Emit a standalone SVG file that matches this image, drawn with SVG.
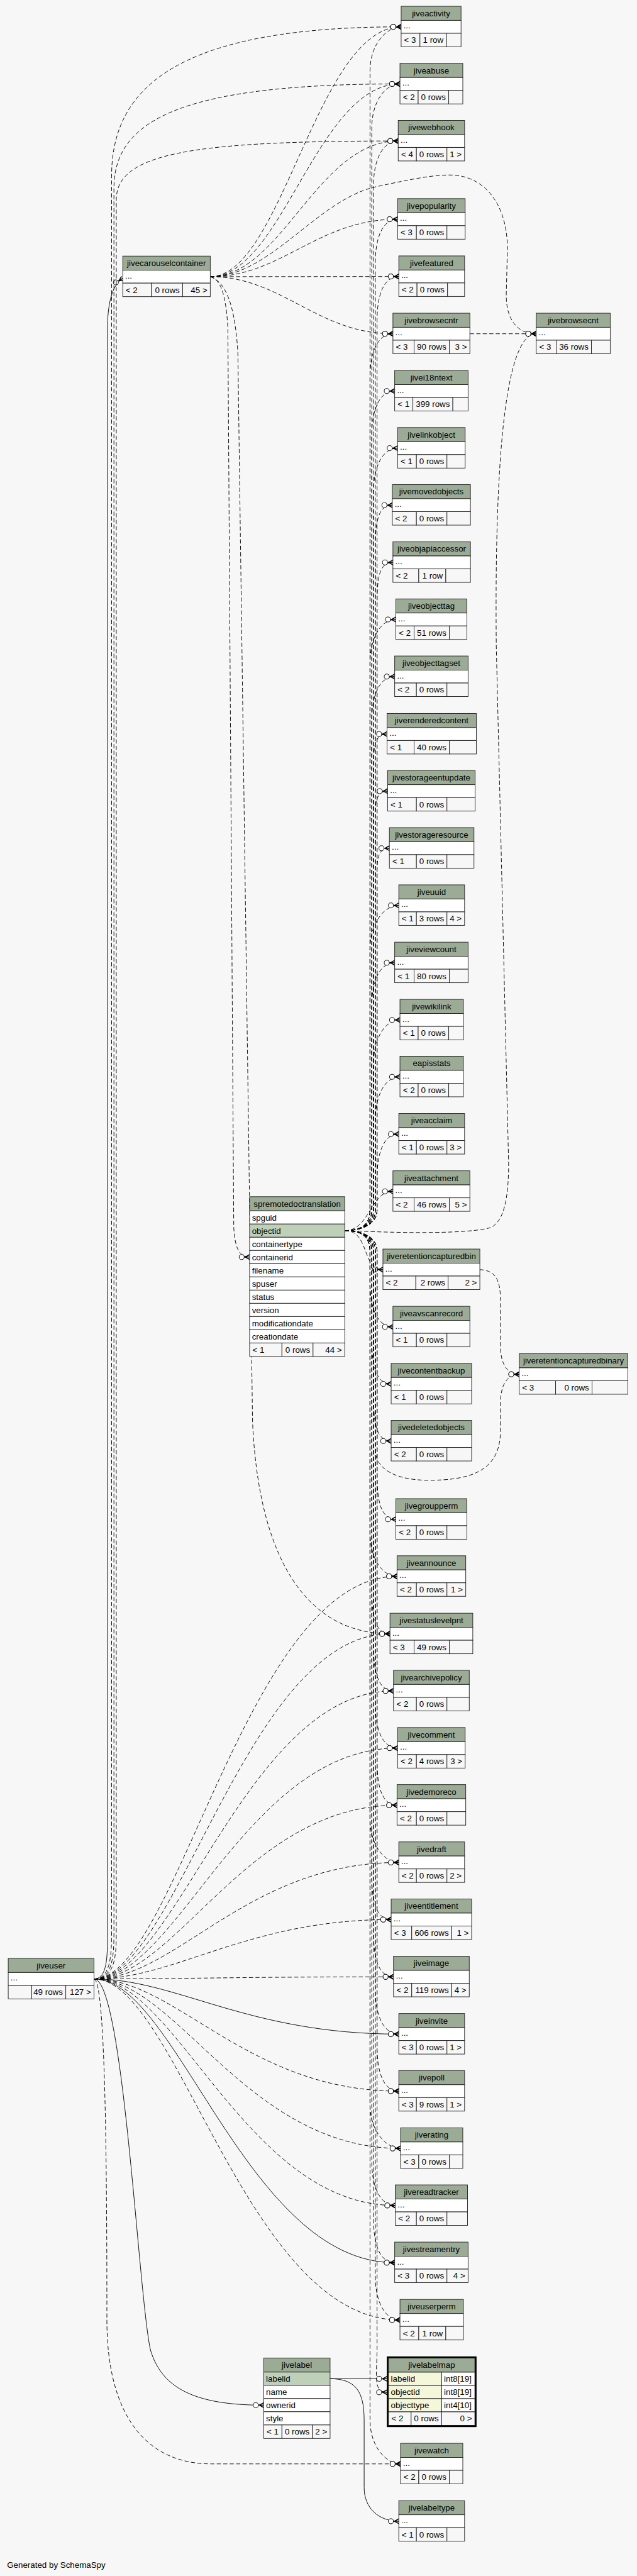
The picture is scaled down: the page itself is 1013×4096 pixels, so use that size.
<svg xmlns="http://www.w3.org/2000/svg" width="1013" height="4096" viewBox="0 0 1013 4096">
<style>
.h{fill:#9bab96;stroke:#222;stroke-width:1}
.r{fill:#fff;stroke:#222;stroke-width:1}
.f{fill:#f7f7f7;stroke:#222;stroke-width:1}
.k{fill:#bed1b8;stroke:#222;stroke-width:1}
.y{fill:#f4f7da;stroke:#222;stroke-width:1}
text{font-family:"Liberation Sans",Arial,Helvetica,sans-serif;font-size:14.3px;fill:#000}
.c{text-anchor:middle}
.e{text-anchor:end}
.l{fill:none;stroke:#000;stroke-width:1;marker-end:url(#m)}
.d{stroke-dasharray:7 4}
</style>
<defs>
<marker id="m" markerUnits="userSpaceOnUse" viewBox="-20 -7 21 14" refX="0" refY="0" markerWidth="21" markerHeight="14" orient="auto">
<path d="M0,-5 L-9,0 L0,5 L0,3 L-6,0 L0,-3 Z" fill="#000"/>
<path d="M-9,0 L0,0" stroke="#000" stroke-width="1.4" fill="none"/>
<circle cx="-13.5" cy="0" r="4.3" fill="#fff" stroke="#000" stroke-width="1"/>
</marker>
</defs>
<rect width="1013" height="4096" fill="#f7f7f7"/>
<g transform="scale(0.934)">
<g id="connectors">
<path class="l d" d="M587,2095 C615,2095 630,2085 630,2060 L630,120.7 C630,75.7 658,45.7 683,45.7"/>
<path class="l d" d="M587,2095 C615,2095 633,2085 633,2060 L633,217.9 C633,172.9 656,142.9 681,142.9"/>
<path class="l d" d="M587,2095 C615,2095 636,2085 636,2060 L636,315 C636,270 653,240 678,240"/>
<path class="l d" d="M587,2095 C615,2095 639,2085 639,2060 L639,448.2 C639,403.2 652,373.2 677,373.2"/>
<path class="l d" d="M587,2095 C615,2095 642,2085 642,2060 L642,545.7 C642,500.7 654,470.7 679,470.7"/>
<path class="l d" d="M587,2095 C615,2095 630,2085 630,2060 L630,643.2 C630,598.2 644,568.2 669,568.2"/>
<path class="l d" d="M587,2095 C615,2095 633,2085 633,2060 L633,740.7 C633,695.7 647,665.7 672,665.7"/>
<path class="l d" d="M587,2095 C615,2095 636,2085 636,2060 L636,837.9 C636,792.9 652,762.9 677,762.9"/>
<path class="l d" d="M587,2095 C615,2095 639,2085 639,2060 L639,935 C639,890 643,860 668,860"/>
<path class="l d" d="M587,2095 C615,2095 642,2085 642,2060 L642,1032.5 C642,987.5 644,957.5 669,957.5"/>
<path class="l d" d="M587,2095 C615,2095 630,2085 630,2060 L630,1129.6 C630,1084.6 649,1054.6 674,1054.6"/>
<path class="l d" d="M587,2095 C615,2095 633,2085 633,2060 L633,1226.8 C633,1181.8 647,1151.8 672,1151.8"/>
<path class="l d" d="M587,2095 C615,2095 636,2085 636,2060 L636,1324.6 C636,1279.6 634,1249.6 659,1249.6"/>
<path class="l d" d="M587,2095 C615,2095 639,2085 639,2060 L639,1421.8 C639,1376.8 635,1346.8 660,1346.8"/>
<path class="l d" d="M587,2095 C615,2095 642,2085 642,2060 L642,1519 C642,1474 638,1444 663,1444"/>
<path class="l d" d="M587,2095 C615,2095 630,2085 630,2060 L630,1616.4 C630,1571.4 654,1541.4 679,1541.4"/>
<path class="l d" d="M587,2095 C615,2095 633,2085 633,2060 L633,1714 C633,1669 647,1639 672,1639"/>
<path class="l d" d="M587,2095 C615,2095 636,2085 636,2060 L636,1811.4 C636,1766.4 656,1736.4 681,1736.4"/>
<path class="l d" d="M587,2095 C615,2095 639,2085 639,2060 L639,1908.2 C639,1863.2 656,1833.2 681,1833.2"/>
<path class="l d" d="M587,2095 C615,2095 642,2085 642,2060 L642,2005.7 C642,1960.7 654,1930.7 679,1930.7"/>
<path class="l d" d="M587,2095 C630,2095 630,2028.2 669,2028.2"/>
<path class="l d" d="M587,2095 C630,2095 615,2161.4 652,2161.4"/>
<path class="l d" d="M587,2095 C615,2095 630,2105 630,2130 L630,2183.9 C630,2228.9 644,2258.9 669,2258.9"/>
<path class="l d" d="M587,2095 C615,2095 633,2105 633,2130 L633,2281 C633,2326 641,2356 666,2356"/>
<path class="l d" d="M587,2095 C615,2095 636,2105 636,2130 L636,2378.2 C636,2423.2 641,2453.2 666,2453.2"/>
<path class="l d" d="M587,2095 C615,2095 639,2105 639,2130 L639,2470 C641,2505 680,2520 730,2520 C800,2520 850,2505 852,2440 L852,2390 C852,2360 862,2339.6 884,2339.6"/>
<path class="l d" d="M587,2095 C615,2095 642,2105 642,2130 L642,2511.4 C642,2556.4 649,2586.4 674,2586.4"/>
<path class="l d" d="M587,2095 C615,2095 630,2105 630,2130 L630,2608.6 C630,2653.6 651,2683.6 676,2683.6"/>
<path class="l d" d="M587,2095 C615,2095 633,2105 633,2130 L633,2706.4 C633,2751.4 639,2781.4 664,2781.4"/>
<path class="l d" d="M587,2095 C615,2095 636,2105 636,2130 L636,2803.6 C636,2848.6 645,2878.6 670,2878.6"/>
<path class="l d" d="M587,2095 C615,2095 639,2105 639,2130 L639,2901 C639,2946 652,2976 677,2976"/>
<path class="l d" d="M587,2095 C615,2095 642,2105 642,2130 L642,2998.2 C642,3043.2 651,3073.2 676,3073.2"/>
<path class="l d" d="M587,2095 C615,2095 630,2105 630,2130 L630,3095.7 C630,3140.7 654,3170.7 679,3170.7"/>
<path class="l d" d="M587,2095 C615,2095 633,2105 633,2130 L633,3192.9 C633,3237.9 641,3267.9 666,3267.9"/>
<path class="l d" d="M587,2095 C615,2095 636,2105 636,2130 L636,3290.4 C636,3335.4 645,3365.4 670,3365.4"/>
<path class="l d" d="M587,2095 C615,2095 639,2105 639,2130 L639,3387.9 C639,3432.9 654,3462.9 679,3462.9"/>
<path class="l d" d="M587,2095 C615,2095 642,2105 642,2130 L642,3485 C642,3530 654,3560 679,3560"/>
<path class="l d" d="M587,2095 C615,2095 630,2105 630,2130 L630,3582.5 C630,3627.5 657,3657.5 682,3657.5"/>
<path class="l d" d="M587,2095 C615,2095 633,2105 633,2130 L633,3679.6 C633,3724.6 648,3754.6 673,3754.6"/>
<path class="l d" d="M587,2095 C615,2095 636,2105 636,2130 L636,3777 C636,3822 647,3852 672,3852"/>
<path class="l d" d="M587,2095 C615,2095 639,2105 639,2130 L639,3874.6 C639,3919.6 656,3949.6 681,3949.6"/>
<path class="l d" d="M587,2095 C615,2095 642,2105 642,2130 L642,3997.6 C642,4042.6 634,4072.6 659,4072.6"/>
<path class="l d" d="M587,2095 C615,2095 630,2105 630,2130 L630,4119.6 C630,4164.6 657,4194.6 682,4194.6"/>
<path class="l d" d="M587,2095 C700,2100 800,2100 835,2090 C858,2080 866,2040 866,1980 L845,1100 C842,800 858,568.2 913,568.2"/>
<path class="l d" d="M358,471 C480,471 540,45.7 683,45.7"/>
<path class="l d" d="M358,471 C480,471 540,142.9 681,142.9"/>
<path class="l d" d="M358,471 C480,471 540,240 678,240"/>
<path class="l d" d="M358,471 C480,471 540,373.2 677,373.2"/>
<path class="l d" d="M358,471 L679,470.7"/>
<path class="l d" d="M358,471 C480,471 540,568.2 669,568.2"/>
<path class="l d" d="M358,471 C460,471 540,340 640,318 C700,305 740,297 770,298 C820,300 862,340 864,420 L862,500 C861,540 878,568.2 913,568.2"/>
<path class="l d" d="M358,471 C375,475 385,500 388,560 L398,2090 C400,2120 405,2140 425,2140"/>
<path class="l d" d="M358,471 C385,480 400,520 405,600 L430,2420 C440,2650 520,2781.4 664,2781.4"/>
<path class="l d" d="M800,568.2 L913,568.2"/>
<path class="l d" d="M817,2161.4 C845,2163 853,2180 852,2220 L852,2290 C852,2320 862,2339.6 884,2339.6"/>
<path class="l" d="M562,4049.5 L659,4049.7"/>
<path class="l" d="M562,4049.5 C605,4050 620,4070 620,4120 L620,4235 C620,4270 645,4292.2 679,4292.2"/>
<path class="l" d="M160,3369 C180,3369 183,3340 183,3300 L183,560 C183,520 190,485 209,474"/>
<path class="l d" d="M160,3369 C188,3369 190,3330 190,3290 L190,300 C190,150 300,45.7 683,45.7"/>
<path class="l d" d="M160,3369 C192,3369 194,3330 194,3290 L194,320 C194,200 320,142.9 681,142.9"/>
<path class="l d" d="M160,3369 C196,3369 198,3330 198,3290 L198,340 C198,260 330,240 678,240"/>
<path class="l d" d="M160,3369 C300,3369 420,2683.6 676,2683.6"/>
<path class="l d" d="M160,3369 C300,3369 420,2781.4 664,2781.4"/>
<path class="l d" d="M160,3369 C300,3369 420,2878.6 670,2878.6"/>
<path class="l d" d="M160,3369 C300,3369 420,2976 677,2976"/>
<path class="l d" d="M160,3369 C300,3369 420,3073.2 676,3073.2"/>
<path class="l d" d="M160,3369 C300,3369 420,3170.7 679,3170.7"/>
<path class="l d" d="M160,3369 C300,3369 420,3267.9 666,3267.9"/>
<path class="l d" d="M160,3369 C300,3369 420,3365.4 670,3365.4"/>
<path class="l" d="M160,3369 C300,3369 420,3462.9 679,3462.9"/>
<path class="l d" d="M160,3369 C300,3369 420,3560 679,3560"/>
<path class="l d" d="M160,3369 C300,3369 420,3657.5 682,3657.5"/>
<path class="l d" d="M160,3369 C300,3369 420,3754.6 673,3754.6"/>
<path class="l" d="M160,3369 C300,3369 420,3852 672,3852"/>
<path class="l d" d="M160,3369 C300,3369 420,3949.6 681,3949.6"/>
<path class="l d" d="M160,3369 C180,3369 182,3700 182,3950 C182,4100 240,4194.6 360,4194.6 L682,4194.6"/>
<path class="l" d="M160,3369 C210,3369 235,3900 256,4000 C275,4065 330,4094.6 449,4094.6"/>
</g>

<g id="jiveactivity" transform="translate(683,10.7)"><rect class="h" width="102" height="24"/><text class="c" x="51" y="17">jiveactivity</text><rect class="r" y="24" width="102" height="22"/><text x="4" y="38">...</text><rect class="f" y="46" width="32" height="23"/><rect class="f" x="32" y="46" width="45" height="23"/><rect class="f" x="77" y="46" width="25" height="23"/><text x="5" y="62.5">&lt; 3</text><text class="e" x="72" y="62.5">1 row</text></g>
<g id="jiveabuse" transform="translate(681,107.9)"><rect class="h" width="107" height="24"/><text class="c" x="53.5" y="17">jiveabuse</text><rect class="r" y="24" width="107" height="22"/><text x="4" y="38">...</text><rect class="f" y="46" width="31" height="23"/><rect class="f" x="31" y="46" width="52" height="23"/><rect class="f" x="83" y="46" width="24" height="23"/><text x="5" y="62.5">&lt; 2</text><text class="e" x="78" y="62.5">0 rows</text></g>
<g id="jivewebhook" transform="translate(678,205)"><rect class="h" width="113" height="24"/><text class="c" x="56.5" y="17">jivewebhook</text><rect class="r" y="24" width="113" height="22"/><text x="4" y="38">...</text><rect class="f" y="46" width="31" height="23"/><rect class="f" x="31" y="46" width="52" height="23"/><rect class="f" x="83" y="46" width="30" height="23"/><text x="5" y="62.5">&lt; 4</text><text class="e" x="78" y="62.5">0 rows</text><text class="e" x="108" y="62.5">1 &gt;</text></g>
<g id="jivepopularity" transform="translate(677,338.2)"><rect class="h" width="115" height="24"/><text class="c" x="57.5" y="17">jivepopularity</text><rect class="r" y="24" width="115" height="22"/><text x="4" y="38">...</text><rect class="f" y="46" width="32" height="23"/><rect class="f" x="32" y="46" width="52" height="23"/><rect class="f" x="84" y="46" width="31" height="23"/><text x="5" y="62.5">&lt; 3</text><text class="e" x="79" y="62.5">0 rows</text></g>
<g id="jivefeatured" transform="translate(679,435.7)"><rect class="h" width="112" height="24"/><text class="c" x="56" y="17">jivefeatured</text><rect class="r" y="24" width="112" height="22"/><text x="4" y="38">...</text><rect class="f" y="46" width="31" height="23"/><rect class="f" x="31" y="46" width="52" height="23"/><rect class="f" x="83" y="46" width="29" height="23"/><text x="5" y="62.5">&lt; 2</text><text class="e" x="78" y="62.5">0 rows</text></g>
<g id="jivebrowsecntr" transform="translate(669,533.2)"><rect class="h" width="131" height="24"/><text class="c" x="65.5" y="17">jivebrowsecntr</text><rect class="r" y="24" width="131" height="22"/><text x="4" y="38">...</text><rect class="f" y="46" width="36" height="23"/><rect class="f" x="36" y="46" width="60" height="23"/><rect class="f" x="96" y="46" width="35" height="23"/><text x="5" y="62.5">&lt; 3</text><text class="e" x="91" y="62.5">90 rows</text><text class="e" x="126" y="62.5">3 &gt;</text></g>
<g id="jivebrowsecnt" transform="translate(913,533.2)"><rect class="h" width="126" height="24"/><text class="c" x="63" y="17">jivebrowsecnt</text><rect class="r" y="24" width="126" height="22"/><text x="4" y="38">...</text><rect class="f" y="46" width="34" height="23"/><rect class="f" x="34" y="46" width="60" height="23"/><rect class="f" x="94" y="46" width="32" height="23"/><text x="5" y="62.5">&lt; 3</text><text class="e" x="89" y="62.5">36 rows</text></g>
<g id="jivei18ntext" transform="translate(672,630.7)"><rect class="h" width="125" height="24"/><text class="c" x="62.5" y="17">jivei18ntext</text><rect class="r" y="24" width="125" height="22"/><text x="4" y="38">...</text><rect class="f" y="46" width="31" height="23"/><rect class="f" x="31" y="46" width="68" height="23"/><rect class="f" x="99" y="46" width="26" height="23"/><text x="5" y="62.5">&lt; 1</text><text class="e" x="94" y="62.5">399 rows</text></g>
<g id="jivelinkobject" transform="translate(677,727.9)"><rect class="h" width="115" height="24"/><text class="c" x="57.5" y="17">jivelinkobject</text><rect class="r" y="24" width="115" height="22"/><text x="4" y="38">...</text><rect class="f" y="46" width="32" height="23"/><rect class="f" x="32" y="46" width="52" height="23"/><rect class="f" x="84" y="46" width="31" height="23"/><text x="5" y="62.5">&lt; 1</text><text class="e" x="79" y="62.5">0 rows</text></g>
<g id="jivemovedobjects" transform="translate(668,825)"><rect class="h" width="133" height="24"/><text class="c" x="66.5" y="17">jivemovedobjects</text><rect class="r" y="24" width="133" height="22"/><text x="4" y="38">...</text><rect class="f" y="46" width="41" height="23"/><rect class="f" x="41" y="46" width="52" height="23"/><rect class="f" x="93" y="46" width="40" height="23"/><text x="5" y="62.5">&lt; 2</text><text class="e" x="88" y="62.5">0 rows</text></g>
<g id="jiveobjapiaccessor" transform="translate(669,922.5)"><rect class="h" width="132" height="24"/><text class="c" x="66" y="17">jiveobjapiaccessor</text><rect class="r" y="24" width="132" height="22"/><text x="4" y="38">...</text><rect class="f" y="46" width="44" height="23"/><rect class="f" x="44" y="46" width="46" height="23"/><rect class="f" x="90" y="46" width="42" height="23"/><text x="5" y="62.5">&lt; 2</text><text class="e" x="85" y="62.5">1 row</text></g>
<g id="jiveobjecttag" transform="translate(674,1019.6)"><rect class="h" width="121" height="24"/><text class="c" x="60.5" y="17">jiveobjecttag</text><rect class="r" y="24" width="121" height="22"/><text x="4" y="38">...</text><rect class="f" y="46" width="31" height="23"/><rect class="f" x="31" y="46" width="60" height="23"/><rect class="f" x="91" y="46" width="30" height="23"/><text x="5" y="62.5">&lt; 2</text><text class="e" x="86" y="62.5">51 rows</text></g>
<g id="jiveobjecttagset" transform="translate(672,1116.8)"><rect class="h" width="125" height="24"/><text class="c" x="62.5" y="17">jiveobjecttagset</text><rect class="r" y="24" width="125" height="22"/><text x="4" y="38">...</text><rect class="f" y="46" width="37" height="23"/><rect class="f" x="37" y="46" width="52" height="23"/><rect class="f" x="89" y="46" width="36" height="23"/><text x="5" y="62.5">&lt; 2</text><text class="e" x="84" y="62.5">0 rows</text></g>
<g id="jiverenderedcontent" transform="translate(659,1214.6)"><rect class="h" width="152" height="24"/><text class="c" x="76" y="17">jiverenderedcontent</text><rect class="r" y="24" width="152" height="22"/><text x="4" y="38">...</text><rect class="f" y="46" width="46" height="23"/><rect class="f" x="46" y="46" width="60" height="23"/><rect class="f" x="106" y="46" width="46" height="23"/><text x="5" y="62.5">&lt; 1</text><text class="e" x="101" y="62.5">40 rows</text></g>
<g id="jivestorageentupdate" transform="translate(660,1311.8)"><rect class="h" width="149" height="24"/><text class="c" x="74.5" y="17">jivestorageentupdate</text><rect class="r" y="24" width="149" height="22"/><text x="4" y="38">...</text><rect class="f" y="46" width="49" height="23"/><rect class="f" x="49" y="46" width="52" height="23"/><rect class="f" x="101" y="46" width="48" height="23"/><text x="5" y="62.5">&lt; 1</text><text class="e" x="96" y="62.5">0 rows</text></g>
<g id="jivestorageresource" transform="translate(663,1409)"><rect class="h" width="144" height="24"/><text class="c" x="72" y="17">jivestorageresource</text><rect class="r" y="24" width="144" height="22"/><text x="4" y="38">...</text><rect class="f" y="46" width="46" height="23"/><rect class="f" x="46" y="46" width="52" height="23"/><rect class="f" x="98" y="46" width="46" height="23"/><text x="5" y="62.5">&lt; 1</text><text class="e" x="93" y="62.5">0 rows</text></g>
<g id="jiveuuid" transform="translate(679,1506.4)"><rect class="h" width="112" height="24"/><text class="c" x="56" y="17">jiveuuid</text><rect class="r" y="24" width="112" height="22"/><text x="4" y="38">...</text><rect class="f" y="46" width="30" height="23"/><rect class="f" x="30" y="46" width="52" height="23"/><rect class="f" x="82" y="46" width="30" height="23"/><text x="5" y="62.5">&lt; 1</text><text class="e" x="77" y="62.5">3 rows</text><text class="e" x="107" y="62.5">4 &gt;</text></g>
<g id="jiveviewcount" transform="translate(672,1604)"><rect class="h" width="125" height="24"/><text class="c" x="62.5" y="17">jiveviewcount</text><rect class="r" y="24" width="125" height="22"/><text x="4" y="38">...</text><rect class="f" y="46" width="33" height="23"/><rect class="f" x="33" y="46" width="60" height="23"/><rect class="f" x="93" y="46" width="32" height="23"/><text x="5" y="62.5">&lt; 1</text><text class="e" x="88" y="62.5">80 rows</text></g>
<g id="jivewikilink" transform="translate(681,1701.4)"><rect class="h" width="108" height="24"/><text class="c" x="54" y="17">jivewikilink</text><rect class="r" y="24" width="108" height="22"/><text x="4" y="38">...</text><rect class="f" y="46" width="31" height="23"/><rect class="f" x="31" y="46" width="52" height="23"/><rect class="f" x="83" y="46" width="25" height="23"/><text x="5" y="62.5">&lt; 1</text><text class="e" x="78" y="62.5">0 rows</text></g>
<g id="eapisstats" transform="translate(681,1798.2)"><rect class="h" width="108" height="24"/><text class="c" x="54" y="17">eapisstats</text><rect class="r" y="24" width="108" height="22"/><text x="4" y="38">...</text><rect class="f" y="46" width="31" height="23"/><rect class="f" x="31" y="46" width="52" height="23"/><rect class="f" x="83" y="46" width="25" height="23"/><text x="5" y="62.5">&lt; 2</text><text class="e" x="78" y="62.5">0 rows</text></g>
<g id="jiveacclaim" transform="translate(679,1895.7)"><rect class="h" width="112" height="24"/><text class="c" x="56" y="17">jiveacclaim</text><rect class="r" y="24" width="112" height="22"/><text x="4" y="38">...</text><rect class="f" y="46" width="30" height="23"/><rect class="f" x="30" y="46" width="52" height="23"/><rect class="f" x="82" y="46" width="30" height="23"/><text x="5" y="62.5">&lt; 1</text><text class="e" x="77" y="62.5">0 rows</text><text class="e" x="107" y="62.5">3 &gt;</text></g>
<g id="jiveattachment" transform="translate(669,1993.2)"><rect class="h" width="131" height="24"/><text class="c" x="65.5" y="17">jiveattachment</text><rect class="r" y="24" width="131" height="22"/><text x="4" y="38">...</text><rect class="f" y="46" width="36" height="23"/><rect class="f" x="36" y="46" width="60" height="23"/><rect class="f" x="96" y="46" width="35" height="23"/><text x="5" y="62.5">&lt; 2</text><text class="e" x="91" y="62.5">46 rows</text><text class="e" x="126" y="62.5">5 &gt;</text></g>
<g id="jiveretentioncapturedbin" transform="translate(652,2126.4)"><rect class="h" width="165" height="24"/><text class="c" x="82.5" y="17">jiveretentioncapturedbin</text><rect class="r" y="24" width="165" height="22"/><text x="4" y="38">...</text><rect class="f" y="46" width="56" height="23"/><rect class="f" x="56" y="46" width="55" height="23"/><rect class="f" x="111" y="46" width="54" height="23"/><text x="5" y="62.5">&lt; 2</text><text class="e" x="106" y="62.5">2 rows</text><text class="e" x="160" y="62.5">2 &gt;</text></g>
<g id="jiveavscanrecord" transform="translate(669,2223.9)"><rect class="h" width="131" height="24"/><text class="c" x="65.5" y="17">jiveavscanrecord</text><rect class="r" y="24" width="131" height="22"/><text x="4" y="38">...</text><rect class="f" y="46" width="40" height="23"/><rect class="f" x="40" y="46" width="52" height="23"/><rect class="f" x="92" y="46" width="39" height="23"/><text x="5" y="62.5">&lt; 1</text><text class="e" x="87" y="62.5">0 rows</text></g>
<g id="jivecontentbackup" transform="translate(666,2321)"><rect class="h" width="137" height="24"/><text class="c" x="68.5" y="17">jivecontentbackup</text><rect class="r" y="24" width="137" height="22"/><text x="4" y="38">...</text><rect class="f" y="46" width="43" height="23"/><rect class="f" x="43" y="46" width="52" height="23"/><rect class="f" x="95" y="46" width="42" height="23"/><text x="5" y="62.5">&lt; 1</text><text class="e" x="90" y="62.5">0 rows</text></g>
<g id="jivedeletedobjects" transform="translate(666,2418.2)"><rect class="h" width="137" height="24"/><text class="c" x="68.5" y="17">jivedeletedobjects</text><rect class="r" y="24" width="137" height="22"/><text x="4" y="38">...</text><rect class="f" y="46" width="43" height="23"/><rect class="f" x="43" y="46" width="52" height="23"/><rect class="f" x="95" y="46" width="42" height="23"/><text x="5" y="62.5">&lt; 2</text><text class="e" x="90" y="62.5">0 rows</text></g>
<g id="jiveretentioncapturedbinary" transform="translate(884,2304.6)"><rect class="h" width="185" height="24"/><text class="c" x="92.5" y="17">jiveretentioncapturedbinary</text><rect class="r" y="24" width="185" height="22"/><text x="4" y="38">...</text><rect class="f" y="46" width="62" height="23"/><rect class="f" x="62" y="46" width="62" height="23"/><rect class="f" x="124" y="46" width="61" height="23"/><text x="5" y="62.5">&lt; 3</text><text class="e" x="119" y="62.5">0 rows</text></g>
<g id="jivegroupperm" transform="translate(674,2551.4)"><rect class="h" width="121" height="24"/><text class="c" x="60.5" y="17">jivegroupperm</text><rect class="r" y="24" width="121" height="22"/><text x="4" y="38">...</text><rect class="f" y="46" width="35" height="23"/><rect class="f" x="35" y="46" width="52" height="23"/><rect class="f" x="87" y="46" width="34" height="23"/><text x="5" y="62.5">&lt; 2</text><text class="e" x="82" y="62.5">0 rows</text></g>
<g id="jiveannounce" transform="translate(676,2648.6)"><rect class="h" width="117" height="24"/><text class="c" x="58.5" y="17">jiveannounce</text><rect class="r" y="24" width="117" height="22"/><text x="4" y="38">...</text><rect class="f" y="46" width="33" height="23"/><rect class="f" x="33" y="46" width="52" height="23"/><rect class="f" x="85" y="46" width="32" height="23"/><text x="5" y="62.5">&lt; 2</text><text class="e" x="80" y="62.5">0 rows</text><text class="e" x="112" y="62.5">1 &gt;</text></g>
<g id="jivestatuslevelpnt" transform="translate(664,2746.4)"><rect class="h" width="141" height="24"/><text class="c" x="70.5" y="17">jivestatuslevelpnt</text><rect class="r" y="24" width="141" height="22"/><text x="4" y="38">...</text><rect class="f" y="46" width="41" height="23"/><rect class="f" x="41" y="46" width="60" height="23"/><rect class="f" x="101" y="46" width="40" height="23"/><text x="5" y="62.5">&lt; 3</text><text class="e" x="96" y="62.5">49 rows</text></g>
<g id="jivearchivepolicy" transform="translate(670,2843.6)"><rect class="h" width="129" height="24"/><text class="c" x="64.5" y="17">jivearchivepolicy</text><rect class="r" y="24" width="129" height="22"/><text x="4" y="38">...</text><rect class="f" y="46" width="39" height="23"/><rect class="f" x="39" y="46" width="52" height="23"/><rect class="f" x="91" y="46" width="38" height="23"/><text x="5" y="62.5">&lt; 2</text><text class="e" x="86" y="62.5">0 rows</text></g>
<g id="jivecomment" transform="translate(677,2941)"><rect class="h" width="115" height="24"/><text class="c" x="57.5" y="17">jivecomment</text><rect class="r" y="24" width="115" height="22"/><text x="4" y="38">...</text><rect class="f" y="46" width="32" height="23"/><rect class="f" x="32" y="46" width="52" height="23"/><rect class="f" x="84" y="46" width="31" height="23"/><text x="5" y="62.5">&lt; 2</text><text class="e" x="79" y="62.5">4 rows</text><text class="e" x="110" y="62.5">3 &gt;</text></g>
<g id="jivedemoreco" transform="translate(676,3038.2)"><rect class="h" width="117" height="24"/><text class="c" x="58.5" y="17">jivedemoreco</text><rect class="r" y="24" width="117" height="22"/><text x="4" y="38">...</text><rect class="f" y="46" width="33" height="23"/><rect class="f" x="33" y="46" width="52" height="23"/><rect class="f" x="85" y="46" width="32" height="23"/><text x="5" y="62.5">&lt; 2</text><text class="e" x="80" y="62.5">0 rows</text></g>
<g id="jivedraft" transform="translate(679,3135.7)"><rect class="h" width="112" height="24"/><text class="c" x="56" y="17">jivedraft</text><rect class="r" y="24" width="112" height="22"/><text x="4" y="38">...</text><rect class="f" y="46" width="30" height="23"/><rect class="f" x="30" y="46" width="52" height="23"/><rect class="f" x="82" y="46" width="30" height="23"/><text x="5" y="62.5">&lt; 2</text><text class="e" x="77" y="62.5">0 rows</text><text class="e" x="107" y="62.5">2 &gt;</text></g>
<g id="jiveentitlement" transform="translate(666,3232.9)"><rect class="h" width="137" height="24"/><text class="c" x="68.5" y="17">jiveentitlement</text><rect class="r" y="24" width="137" height="22"/><text x="4" y="38">...</text><rect class="f" y="46" width="35" height="23"/><rect class="f" x="35" y="46" width="68" height="23"/><rect class="f" x="103" y="46" width="34" height="23"/><text x="5" y="62.5">&lt; 3</text><text class="e" x="98" y="62.5">606 rows</text><text class="e" x="132" y="62.5">1 &gt;</text></g>
<g id="jiveimage" transform="translate(670,3330.4)"><rect class="h" width="129" height="24"/><text class="c" x="64.5" y="17">jiveimage</text><rect class="r" y="24" width="129" height="22"/><text x="4" y="38">...</text><rect class="f" y="46" width="31" height="23"/><rect class="f" x="31" y="46" width="68" height="23"/><rect class="f" x="99" y="46" width="30" height="23"/><text x="5" y="62.5">&lt; 2</text><text class="e" x="94" y="62.5">119 rows</text><text class="e" x="124" y="62.5">4 &gt;</text></g>
<g id="jiveinvite" transform="translate(679,3427.9)"><rect class="h" width="112" height="24"/><text class="c" x="56" y="17">jiveinvite</text><rect class="r" y="24" width="112" height="22"/><text x="4" y="38">...</text><rect class="f" y="46" width="30" height="23"/><rect class="f" x="30" y="46" width="52" height="23"/><rect class="f" x="82" y="46" width="30" height="23"/><text x="5" y="62.5">&lt; 3</text><text class="e" x="77" y="62.5">0 rows</text><text class="e" x="107" y="62.5">1 &gt;</text></g>
<g id="jivepoll" transform="translate(679,3525)"><rect class="h" width="112" height="24"/><text class="c" x="56" y="17">jivepoll</text><rect class="r" y="24" width="112" height="22"/><text x="4" y="38">...</text><rect class="f" y="46" width="30" height="23"/><rect class="f" x="30" y="46" width="52" height="23"/><rect class="f" x="82" y="46" width="30" height="23"/><text x="5" y="62.5">&lt; 3</text><text class="e" x="77" y="62.5">9 rows</text><text class="e" x="107" y="62.5">1 &gt;</text></g>
<g id="jiverating" transform="translate(682,3622.5)"><rect class="h" width="106" height="24"/><text class="c" x="53" y="17">jiverating</text><rect class="r" y="24" width="106" height="22"/><text x="4" y="38">...</text><rect class="f" y="46" width="31" height="23"/><rect class="f" x="31" y="46" width="52" height="23"/><rect class="f" x="83" y="46" width="23" height="23"/><text x="5" y="62.5">&lt; 3</text><text class="e" x="78" y="62.5">0 rows</text></g>
<g id="jivereadtracker" transform="translate(673,3719.6)"><rect class="h" width="123" height="24"/><text class="c" x="61.5" y="17">jivereadtracker</text><rect class="r" y="24" width="123" height="22"/><text x="4" y="38">...</text><rect class="f" y="46" width="36" height="23"/><rect class="f" x="36" y="46" width="52" height="23"/><rect class="f" x="88" y="46" width="35" height="23"/><text x="5" y="62.5">&lt; 2</text><text class="e" x="83" y="62.5">0 rows</text></g>
<g id="jivestreamentry" transform="translate(672,3817)"><rect class="h" width="125" height="24"/><text class="c" x="62.5" y="17">jivestreamentry</text><rect class="r" y="24" width="125" height="22"/><text x="4" y="38">...</text><rect class="f" y="46" width="37" height="23"/><rect class="f" x="37" y="46" width="52" height="23"/><rect class="f" x="89" y="46" width="36" height="23"/><text x="5" y="62.5">&lt; 3</text><text class="e" x="84" y="62.5">0 rows</text><text class="e" x="120" y="62.5">4 &gt;</text></g>
<g id="jiveuserperm" transform="translate(681,3914.6)"><rect class="h" width="108" height="24"/><text class="c" x="54" y="17">jiveuserperm</text><rect class="r" y="24" width="108" height="22"/><text x="4" y="38">...</text><rect class="f" y="46" width="32" height="23"/><rect class="f" x="32" y="46" width="46" height="23"/><rect class="f" x="78" y="46" width="30" height="23"/><text x="5" y="62.5">&lt; 2</text><text class="e" x="73" y="62.5">1 row</text></g>
<g id="jivewatch" transform="translate(682,4159.6)"><rect class="h" width="106" height="24"/><text class="c" x="53" y="17">jivewatch</text><rect class="r" y="24" width="106" height="22"/><text x="4" y="38">...</text><rect class="f" y="46" width="31" height="23"/><rect class="f" x="31" y="46" width="52" height="23"/><rect class="f" x="83" y="46" width="23" height="23"/><text x="5" y="62.5">&lt; 2</text><text class="e" x="78" y="62.5">0 rows</text></g>
<g id="jivelabeltype" transform="translate(679,4257.2)"><rect class="h" width="112" height="24"/><text class="c" x="56" y="17">jivelabeltype</text><rect class="r" y="24" width="112" height="22"/><text x="4" y="38">...</text><rect class="f" y="46" width="30" height="23"/><rect class="f" x="30" y="46" width="52" height="23"/><rect class="f" x="82" y="46" width="30" height="23"/><text x="5" y="62.5">&lt; 1</text><text class="e" x="77" y="62.5">0 rows</text></g>
<g id="jivecarouselcontainer" transform="translate(209,436)"><rect class="h" width="149" height="24"/><text class="c" x="74.5" y="17">jivecarouselcontainer</text><rect class="r" y="24" width="149" height="22"/><text x="4" y="38">...</text><rect class="f" y="46" width="49" height="23"/><rect class="f" x="49" y="46" width="53" height="23"/><rect class="f" x="102" y="46" width="47" height="23"/><text x="5" y="62.5">&lt; 2</text><text class="e" x="97" y="62.5">0 rows</text><text class="e" x="144" y="62.5">45 &gt;</text></g>
<g id="jiveuser" transform="translate(14,3334)"><rect class="h" width="146" height="24"/><text class="c" x="73" y="17">jiveuser</text><rect class="r" y="24" width="146" height="22"/><text x="4" y="38">...</text><rect class="f" y="46" width="40" height="23"/><rect class="f" x="40" y="46" width="58" height="23"/><rect class="f" x="98" y="46" width="48" height="23"/><text class="e" x="93" y="62.5">49 rows</text><text class="e" x="141" y="62.5">127 &gt;</text></g>

<g id="spremotedoctranslation" transform="translate(425,2037.3)">
<rect class="h" width="162" height="24"/><text class="c" x="81" y="17">spremotedoctranslation</text>
<rect class="r" y="24" width="162" height="22.5"/><text x="4" y="40.5">spguid</text>
<rect class="k" y="46.5" width="162" height="22.5"/><text x="4" y="63">objectid</text>
<rect class="r" y="69" width="162" height="22.5"/><text x="4" y="85.5">containertype</text>
<rect class="r" y="91.5" width="162" height="22.5"/><text x="4" y="108">containerid</text>
<rect class="r" y="114" width="162" height="22.5"/><text x="4" y="130.5">filename</text>
<rect class="r" y="136.5" width="162" height="22.5"/><text x="4" y="153">spuser</text>
<rect class="r" y="159" width="162" height="22.5"/><text x="4" y="175.5">status</text>
<rect class="r" y="181.5" width="162" height="22.5"/><text x="4" y="198">version</text>
<rect class="r" y="204" width="162" height="22.5"/><text x="4" y="220.5">modificationdate</text>
<rect class="r" y="226.5" width="162" height="22.5"/><text x="4" y="243">creationdate</text>
<rect class="f" y="249" width="55" height="23"/><rect class="f" x="55" y="249" width="53" height="23"/><rect class="f" x="108" y="249" width="54" height="23"/>
<text x="5" y="265.5">&lt; 1</text><text class="e" x="103" y="265.5">0 rows</text><text class="e" x="157" y="265.5">44 &gt;</text>
</g>
<g id="jivelabel" transform="translate(449,4014.3)">
<rect class="h" width="113" height="24"/><text class="c" x="56.5" y="17">jivelabel</text>
<rect class="k" y="24" width="113" height="22.5"/><text x="4" y="40.5">labelid</text>
<rect class="r" y="46.5" width="113" height="22.5"/><text x="4" y="63">name</text>
<rect class="r" y="69" width="113" height="22.5"/><text x="4" y="85.5">ownerid</text>
<rect class="r" y="91.5" width="113" height="22.5"/><text x="4" y="108">style</text>
<rect class="f" y="114" width="31" height="23"/><rect class="f" x="31" y="114" width="52" height="23"/><rect class="f" x="83" y="114" width="30" height="23"/>
<text x="5" y="130.5">&lt; 1</text><text class="e" x="78" y="130.5">0 rows</text><text class="e" x="108" y="130.5">2 &gt;</text>
</g>
<g id="jivelabelmap" transform="translate(661.5,4014.5)">
<rect class="h" width="147" height="24"/><text class="c" x="73.5" y="17">jivelabelmap</text>
<rect class="y" y="24" width="90.5" height="22.5"/><rect class="r" x="90.5" y="24" width="56.5" height="22.5"/><text x="4" y="40.5">labelid</text><text x="94.5" y="40.5">int8[19]</text>
<rect class="y" y="46.5" width="90.5" height="22.5"/><rect class="r" x="90.5" y="46.5" width="56.5" height="22.5"/><text x="4" y="63">objectid</text><text x="94.5" y="63">int8[19]</text>
<rect class="y" y="69" width="90.5" height="22.5"/><rect class="r" x="90.5" y="69" width="56.5" height="22.5"/><text x="4" y="85.5">objecttype</text><text x="94.5" y="85.5">int4[10]</text>
<rect class="f" y="91.5" width="38.5" height="23"/><rect class="f" x="38.5" y="91.5" width="52" height="23"/><rect class="f" x="90.5" y="91.5" width="56.5" height="23"/>
<text x="5" y="108">&lt; 2</text><text class="e" x="85.5" y="108">0 rows</text><text class="e" x="142" y="108">0 &gt;</text>
<rect x="-1.5" y="-1.5" width="150" height="117.5" fill="none" stroke="#000" stroke-width="2.8"/>
</g>
<text x="12" y="4372">Generated by SchemaSpy</text>
</g>
</svg>
